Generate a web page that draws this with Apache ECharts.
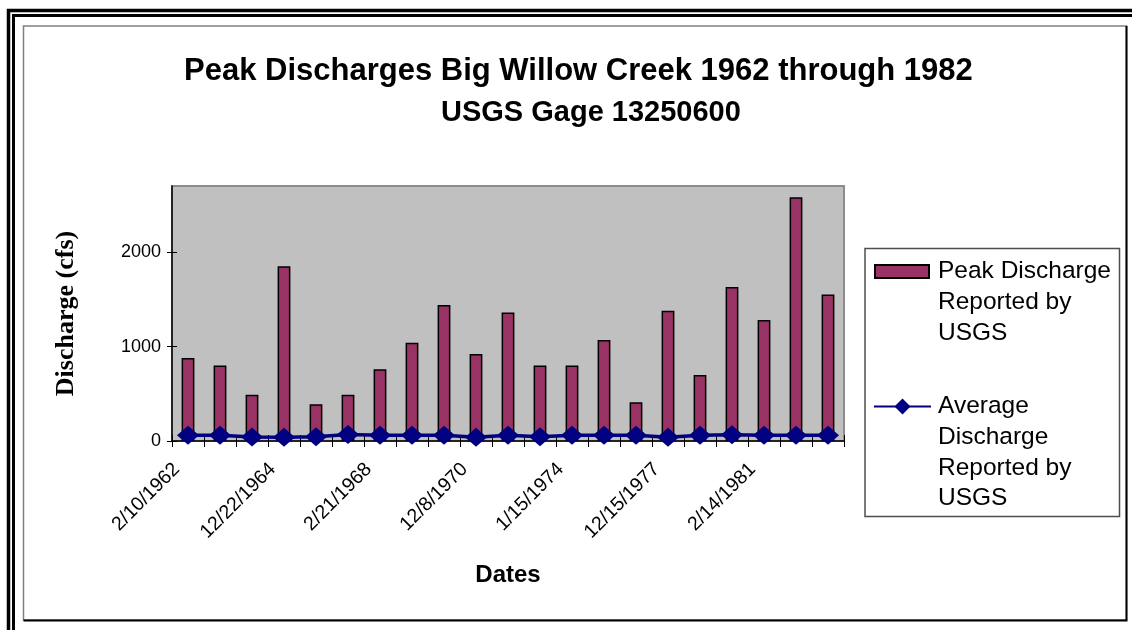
<!DOCTYPE html>
<html>
<head>
<meta charset="utf-8">
<title>Peak Discharges Big Willow Creek</title>
<script src="https://cdn.jsdelivr.net/npm/echarts@6/dist/echarts.min.js"></script>
<style>
  html, body { margin: 0; padding: 0; background: #ffffff; }
  #chart { width: 1132px; height: 630px; }
</style>
</head>
<body>
<div id="chart"></div>
<script>
// Peak date of each water year; only every third one is printed on the axis.
const dates = ['2/10/1962', '', '', '12/22/1964', '', '', '2/21/1968', '', '', '12/8/1970', '', '',
               '1/15/1974', '', '', '12/15/1977', '', '', '2/14/1981', '', ''];
// Peak discharge (cfs)
const peakDischarge = [880, 800, 490, 1850, 390, 490, 760, 1040, 1440, 920, 1360,
                       800, 800, 1070, 410, 1380, 700, 1630, 1280, 2580, 1550];
// Average discharge (cfs)
const averageDischarge = [62, 62, 42, 40, 44, 68, 62, 62, 62, 40, 62,
                          44, 62, 62, 62, 40, 62, 66, 62, 62, 62];
const yTicks = [0, 1000, 2000];
const yMax = 2700;

const peakName = 'Peak Discharge Reported by USGS';
const avgName = 'Average Discharge Reported by USGS';
const legendLines = {};
legendLines[peakName] = ['Peak Discharge', 'Reported by', 'USGS'];
legendLines[avgName] = ['Average', 'Discharge', 'Reported by', 'USGS'];

// The legend centres its text block on the symbol; blank lines above the
// wrapped name put the first printed line level with the symbol instead.
function legendLabel(name) {
  const lines = legendLines[name];
  const pad = [];
  for (let i = 1; i < lines.length; i++) pad.push(' ');
  return pad.concat(lines).join('\n');
}

const SANS = '"Liberation Sans", Arial, sans-serif';
const SERIF = '"Liberation Serif", "Times New Roman", serif';

const chart = echarts.init(document.getElementById('chart'), null, { renderer: 'canvas' });

const legendBase = {
  orient: 'vertical',
  padding: 0,
  selectedMode: false,
  formatter: legendLabel
};

chart.setOption({
  animation: false,
  backgroundColor: '#ffffff',
  title: [
    {
      text: 'Peak Discharges Big Willow Creek 1962 through 1982',
      left: 184, top: 56, padding: 0,
      textStyle: { fontFamily: SANS, fontSize: 31, fontWeight: 'bold', color: '#000' }
    },
    {
      text: 'USGS Gage 13250600',
      left: 441, top: 98, padding: 0,
      textStyle: { fontFamily: SANS, fontSize: 29, fontWeight: 'bold', color: '#000' }
    }
  ],
  grid: {
    left: 172, right: 288, top: 186, bottom: 189,
    show: true, backgroundColor: '#c0c0c0', borderColor: '#8c8c8c', borderWidth: 2
  },
  legend: [
    Object.assign({}, legendBase, {
      left: 874, top: 194, itemWidth: 54, itemHeight: 13,
      data: [{ name: peakName, icon: 'rect' }],
      textStyle: { fontFamily: SANS, fontSize: 24.5, color: '#000', lineHeight: 31, padding: [0, 0, 0, 4] }
    }),
    Object.assign({}, legendBase, {
      left: 873, top: 299, itemWidth: 57, itemHeight: 20,
      data: [{ name: avgName }],
      textStyle: { fontFamily: SANS, fontSize: 24.5, color: '#000', lineHeight: 30.7, padding: [0, 0, 0, 2] }
    })
  ],
  xAxis: [
    {
      type: 'category', data: dates, boundaryGap: true,
      name: 'Dates', nameLocation: 'middle', nameGap: 122,
      nameTextStyle: { fontFamily: SANS, fontSize: 24, fontWeight: 'bold', color: '#000' },
      axisLine: { lineStyle: { color: '#000', width: 1.5 } },
      axisTick: { show: true, interval: 0, length: 6, lineStyle: { color: '#000', width: 1 } },
      axisLabel: {
        interval: 2, rotate: 45, margin: 14, padding: [0, 16, 0, 0],
        fontFamily: SANS, fontSize: 19.5, color: '#000'
      },
      splitLine: { show: false }
    },
    {
      // inner half of the crossing tick marks
      type: 'category', data: dates, boundaryGap: true, position: 'bottom',
      axisLine: { show: false },
      axisTick: { show: true, inside: true, interval: 0, length: 6, lineStyle: { color: '#000', width: 1 } },
      axisLabel: { show: false }, splitLine: { show: false }
    }
  ],
  yAxis: [
    {
      type: 'value', min: 0, max: yMax,
      name: 'Discharge (cfs)', nameLocation: 'middle', nameGap: 93, nameRotate: 90,
      nameTextStyle: { fontFamily: SERIF, fontSize: 26, fontWeight: 'bold', color: '#000' },
      axisLine: { show: true, lineStyle: { color: '#000', width: 1.5 } },
      axisTick: { show: true, length: 5, customValues: yTicks, lineStyle: { color: '#000', width: 1 } },
      axisLabel: {
        customValues: yTicks, margin: 11, fontFamily: SANS, fontSize: 18, color: '#000',
        formatter: function (v) { return String(v); }
      },
      splitLine: { show: false }
    },
    {
      type: 'value', min: 0, max: yMax, position: 'left',
      axisLine: { show: false },
      axisTick: { show: true, inside: true, length: 5, customValues: yTicks, lineStyle: { color: '#000', width: 1 } },
      axisLabel: { show: false }, splitLine: { show: false }
    }
  ],
  series: [
    {
      name: peakName, type: 'bar', data: peakDischarge, barWidth: '40%',
      itemStyle: { color: '#993366', borderColor: '#000', borderWidth: 1.5 }
    },
    {
      name: avgName, type: 'line', data: averageDischarge, z: 5,
      symbol: 'diamond', symbolSize: [22, 19],
      lineStyle: { color: '#000080', width: 3.5 },
      itemStyle: { color: '#000080' }
    }
  ],
  graphic: [
    // double rule along the top and left edges
    { type: 'rect', silent: true, z: 100, shape: { x: 8.5, y: 10.5, width: 1300, height: 800 },
      style: { fill: 'none', stroke: '#000', lineWidth: 3.5 } },
    { type: 'rect', silent: true, z: 100, shape: { x: 13.5, y: 15.5, width: 1300, height: 800 },
      style: { fill: 'none', stroke: '#000', lineWidth: 3 } },
    // chart area border
    { type: 'rect', silent: true, z: 100, shape: { x: 23.5, y: 26, width: 1103, height: 594 },
      style: { fill: 'none', stroke: '#808080', lineWidth: 1.5 } },
    { type: 'polyline', silent: true, z: 101, shape: { points: [[1126.5, 26], [1126.5, 620.5], [23.5, 620.5]] },
      style: { fill: 'none', stroke: '#000', lineWidth: 2 } },
    // legend frame
    { type: 'rect', silent: true, z: 100, shape: { x: 865, y: 248.5, width: 254.5, height: 268 },
      style: { fill: 'none', stroke: '#4d4d4d', lineWidth: 1.5 } }
  ]
});
</script>
</body>
</html>
